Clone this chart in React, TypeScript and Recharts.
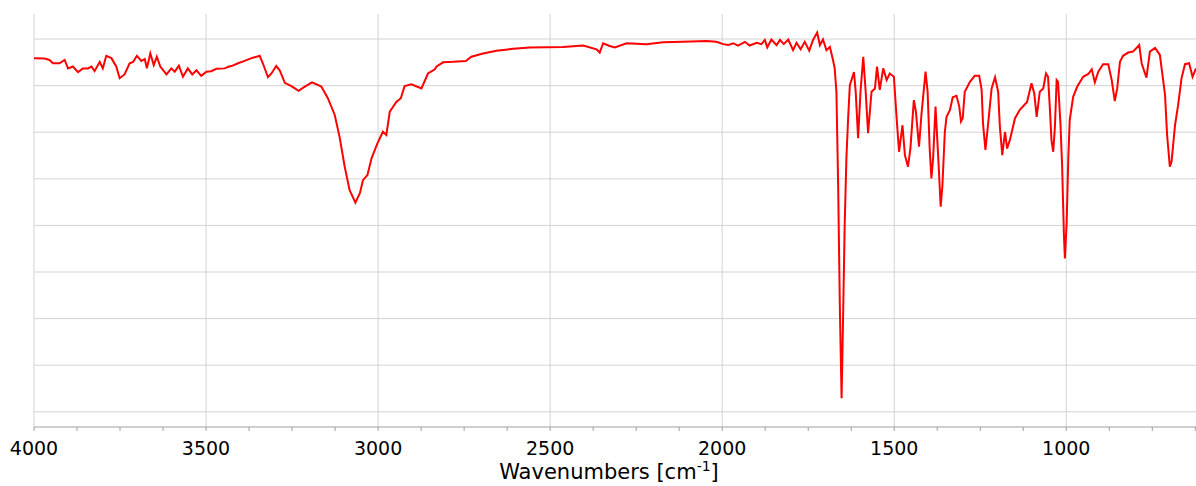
import { CartesianGrid, Line, LineChart, XAxis, YAxis } from "recharts";

// IR spectrum (wavenumber in cm-1, %T)
const wavenumbers = [
  4000, 3969, 3955, 3945, 3926, 3911, 3901, 3887, 3872, 3858, 3843, 3833, 3824, 3809, 3800, 3790,
  3775, 3761, 3751, 3737, 3722, 3712, 3701, 3688, 3678, 3672, 3662, 3652, 3643, 3633, 3615, 3601,
  3591, 3579, 3567, 3553, 3540, 3528, 3514, 3499, 3485, 3470, 3446, 3433, 3426, 3407, 3388, 3368,
  3344, 3335, 3320, 3310, 3296, 3286, 3271, 3252, 3231, 3213, 3192, 3165, 3146, 3126, 3112, 3097,
  3083, 3066, 3053, 3044, 3031, 3019, 3002, 2986, 2976, 2966, 2947, 2934, 2923, 2903, 2874, 2855,
  2835, 2830, 2811, 2782, 2745, 2729, 2695, 2656, 2608, 2559, 2462, 2404, 2365, 2356, 2346, 2327,
  2312, 2278, 2220, 2172, 2114, 2046, 2017, 1997, 1983, 1968, 1954, 1934, 1920, 1900, 1886, 1876,
  1869, 1857, 1842, 1832, 1821, 1808, 1794, 1784, 1772, 1760, 1747, 1736, 1724, 1716, 1707, 1697,
  1687, 1678, 1673, 1668, 1663, 1658, 1653, 1649, 1644, 1639, 1634, 1629, 1617, 1612, 1605, 1598,
  1590, 1583, 1576, 1566, 1556, 1550, 1542, 1532, 1522, 1513, 1501, 1493, 1486, 1476, 1469, 1460,
  1453, 1443, 1437, 1428, 1421, 1409, 1403, 1397, 1392, 1387, 1380, 1372, 1365, 1360, 1353, 1348,
  1338, 1330, 1319, 1311, 1306, 1301, 1295, 1280, 1266, 1253, 1246, 1242, 1235, 1227, 1217, 1207,
  1198, 1193, 1186, 1178, 1172, 1164, 1149, 1135, 1114, 1101, 1093, 1086, 1077, 1067, 1059, 1053,
  1048, 1043, 1038, 1033, 1028, 1024, 1017, 1012, 1007, 1004, 999, 994, 990, 980, 968, 951,
  936, 926, 917, 907, 893, 878, 868, 859, 852, 844, 835, 820, 806, 788, 781, 767,
  757, 742, 728, 713, 707, 699, 694, 684, 675, 665, 655, 643, 633, 623,
];

const transmittance = [
  85.9, 85.8, 85.5, 84.8, 84.8, 85.5, 83.7, 84.1, 82.9, 83.7, 83.7, 84.1, 83.1, 85.1, 83.7, 86.4,
  85.9, 84.1, 81.6, 82.4, 84.8, 85.1, 86.4, 85.3, 85.7, 83.7, 86.9, 84.4, 86.2, 84.1, 82.4, 83.7,
  83.0, 84.3, 81.9, 83.7, 82.4, 83.3, 82.1, 83.0, 83.1, 83.6, 83.7, 84.1, 84.2, 84.8, 85.3, 85.9,
  86.4, 84.8, 81.8, 82.6, 84.2, 83.3, 80.6, 79.9, 78.9, 79.8, 80.7, 79.8, 77.3, 73.7, 69.0, 62.6,
  57.6, 54.9, 56.9, 59.7, 60.8, 64.4, 67.6, 70.1, 69.4, 74.4, 76.5, 77.3, 79.9, 80.3, 79.4, 82.6,
  83.5, 84.1, 85.0, 85.1, 85.3, 86.2, 86.9, 87.5, 87.9, 88.2, 88.3, 88.6, 87.8, 87.1, 89.1, 88.5,
  88.2, 89.1, 88.9, 89.3, 89.4, 89.6, 89.4, 88.9, 88.7, 89.1, 88.6, 89.4, 88.6, 89.2, 88.9, 89.8,
  88.2, 89.9, 88.7, 89.8, 88.9, 89.9, 87.6, 89.2, 87.8, 89.4, 87.5, 89.8, 91.4, 88.7, 89.9, 87.6,
  88.3, 85.5, 83.7, 78.7, 58.7, 32.3, 12.9, 28.6, 50.1, 64.4, 73.0, 80.1, 82.9, 78.7, 68.7, 78.7,
  86.2, 78.7, 69.8, 78.7, 79.4, 84.1, 79.1, 83.7, 81.2, 82.6, 81.9, 73.0, 65.8, 71.5, 65.1, 62.6,
  66.5, 76.9, 74.4, 66.9, 73.7, 83.0, 78.7, 66.5, 60.1, 64.4, 75.5, 64.4, 54.0, 58.5, 70.0, 73.3,
  74.8, 77.5, 77.8, 75.5, 72.3, 73.0, 78.7, 80.8, 82.1, 82.1, 79.1, 71.9, 66.2, 71.9, 79.4, 81.8,
  78.7, 71.2, 65.1, 70.1, 66.5, 68.3, 73.0, 74.8, 76.5, 80.5, 78.3, 73.3, 78.7, 79.4, 82.6, 81.9,
  75.5, 68.3, 65.8, 71.2, 81.2, 80.8, 71.9, 62.6, 48.3, 42.9, 50.4, 64.7, 72.6, 77.6, 79.8, 81.9,
  82.5, 83.5, 80.7, 83.0, 84.6, 84.6, 81.2, 76.7, 79.4, 85.1, 86.4, 87.1, 87.3, 88.7, 84.8, 81.7,
  87.3, 88.1, 86.6, 78.0, 69.4, 62.6, 63.7, 71.5, 75.8, 81.6, 84.6, 84.8, 81.9, 83.7,
];

const majorTicks = [4000, 3500, 3000, 2500, 2000, 1500, 1000];
const allTicks = [
  4000, 3875, 3750, 3625, 3500, 3375, 3250, 3125, 3000, 2875, 2750, 2625, 2500, 2375, 2250, 2125,
  2000, 1875, 1750, 1625, 1500, 1375, 1250, 1125, 1000, 875, 750, 625,
];
const yGridTicks = [10, 20, 30, 40, 50, 60, 70, 80, 90];

const chartData = wavenumbers.map((wn, i) => ({ wn, t: transmittance[i] }));

const FONT = "'DejaVu Sans', Verdana, sans-serif";

function WavenumberTick({ x, y, payload }: any) {
  if (!majorTicks.includes(payload.value)) {
    return <g />;
  }
  return (
    <text x={x} y={y} dy={22} textAnchor="middle" fontFamily={FONT} fontSize={19} fill="#000">
      {payload.value}
    </text>
  );
}

function AxisTitle({ viewBox }: any) {
  const { x, y, width } = viewBox;
  return (
    <text x={x + width / 2 - 6} y={y + 52} textAnchor="middle" fontFamily={FONT} fontSize={21} fill="#000">
      Wavenumbers [cm
      <tspan dy={-8} fontSize={14}>
        -1
      </tspan>
      <tspan dy={8}>]</tspan>
    </text>
  );
}

export default function App() {
  return (
    <div style={{ position: "absolute", left: 0, top: 0, width: 1196, height: 486, background: "#fff" }}>
      <LineChart width={1196} height={486} data={chartData} margin={{ top: 14, right: 0, left: 34, bottom: 0 }}>
        <CartesianGrid stroke="#d3d3d3" xAxisId="major" syncWithTicks />
        <XAxis
          xAxisId="major"
          dataKey="wn"
          type="number"
          domain={[623, 4000]}
          reversed
          allowDataOverflow
          ticks={majorTicks}
          hide
        />
        <XAxis
          dataKey="wn"
          type="number"
          domain={[623, 4000]}
          reversed
          allowDataOverflow
          ticks={allTicks}
          interval={0}
          tick={<WavenumberTick />}
          tickSize={4}
          tickMargin={2}
          tickLine={{ stroke: "#a0a0a0" }}
          axisLine={{ stroke: "#a0a0a0" }}
          height={59}
          label={<AxisTitle />}
        />
        <YAxis hide type="number" domain={[6.74, 95.37]} ticks={yGridTicks} allowDataOverflow />
        <Line
          dataKey="t"
          type="linear"
          stroke="#ff0000"
          strokeWidth={2}
          dot={false}
          isAnimationActive={false}
        />
      </LineChart>
    </div>
  );
}
